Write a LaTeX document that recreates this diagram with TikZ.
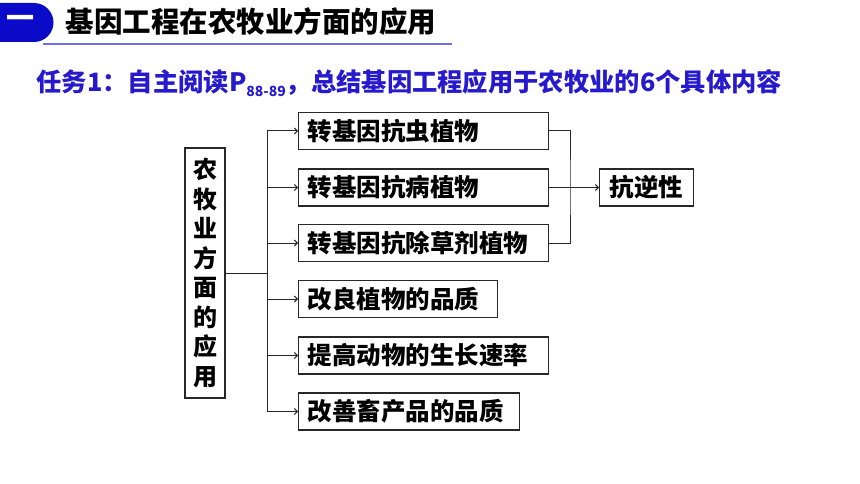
\documentclass[tikz,border=0pt]{standalone}
\usepackage{fontspec}
\newfontfamily\cjk{Noto Sans CJK SC}
\usepackage{xcolor}
\definecolor{hdrblue}{RGB}{10,10,200}
\definecolor{hdrline}{RGB}{110,110,235}
\definecolor{taskblue}{RGB}{38,26,204}
\definecolor{boxgray}{RGB}{40,40,40}
\usetikzlibrary{arrows.meta}
\usetikzlibrary{positioning}

\tikzset{
  itembox/.style={draw=boxgray, line width=1.2pt, anchor=west, align=left,
    inner xsep=9pt, inner ysep=0pt, minimum height=37pt,
    font=\cjk\bfseries\fontsize{24.5}{24.5}\selectfont},
  link/.style={draw=boxgray, line width=1pt},
  tip/.style={-{Straight Barb[length=3pt,width=6pt]}}
}

\begin{document}
\begin{tikzpicture}[x=1pt,y=-1pt]
  \useasboundingbox (0,0) rectangle (860,484);

  % header
  \fill[hdrblue] (0,3) -- (34,3) arc[start angle=-90,end angle=90,radius=19.5] -- (0,42) -- cycle;
  \node[text=white, font=\cjk\bfseries\fontsize{28}{28}\selectfont] (num) at (20,22) {一};
  \node[anchor=west, font=\cjk\bfseries\fontsize{28.5}{28.5}\selectfont] (title) at (62,22) {基因工程在农牧业方面的应用};
  \draw[hdrline, line width=1.5pt] (43,44) -- (452,44);

  \node[anchor=west, text=taskblue, font=\cjk\bfseries\fontsize{25.3}{25.3}\selectfont] (task) at (33,83)
    {任务1：自主阅读P{\fontsize{14}{14}\selectfont\raisebox{-5pt}{88-89}}，总结基因工程应用于农牧业的6个具体内容};

  % tree
  \node[draw=boxgray, line width=1.2pt, minimum width=40pt, minimum height=250pt, inner sep=0pt,
    align=center, font=\cjk\bfseries\fontsize{24}{29.5}\selectfont] (app) at (205,273)
    {农\\牧\\业\\方\\面\\的\\应\\用};

  \node[itembox, text width=232pt] (insect) at (298,131) {转基因抗虫植物};
  \node[itembox, text width=232pt] (disease) at (298,187.5) {转基因抗病植物};
  \node[itembox, text width=232pt] (herb) at (298,243) {转基因抗除草剂植物};
  \node[itembox, text width=181pt] (quality) at (298,299) {改良植物的品质};
  \node[itembox, text width=232pt] (growth) at (298,355.5) {提高动物的生长速率};
  \node[itembox, text width=203pt] (product) at (298,411.5) {改善畜产品的品质};

  \node[itembox, inner xsep=10pt, text width=74pt] (resist) at (599,187.5) {抗逆性};

  \coordinate (trunk) at (267,273);
  \coordinate (join) at (570,187.5);

  \draw[link] (app.east) -- (trunk);
  \draw[link] (trunk |- insect.west) -- (trunk |- product.west);
  \foreach \n in {insect,disease,herb,quality,growth,product}
    \draw[link, tip] (trunk |- \n.west) -- (\n.west);

  \draw[link] (insect.east) -| (join) |- (herb.east);
  \draw[link, tip] (disease.east) -- (resist.west);

\end{tikzpicture}
\end{document}
